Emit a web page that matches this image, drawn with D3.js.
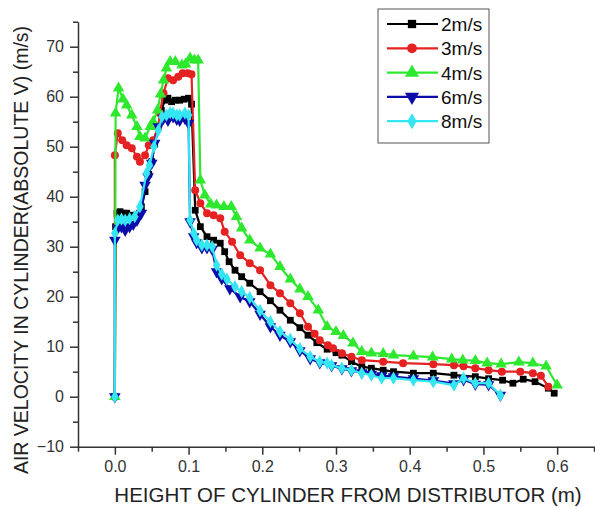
<!DOCTYPE html>
<html>
<head>
<meta charset="utf-8">
<script src="https://cdn.jsdelivr.net/npm/d3@7"></script>
<style>
  body { margin: 0; background: #fff; }
  svg { font-family: "Liberation Sans", Arial, sans-serif; }
</style>
</head>
<body>
<div id="chart"></div>
<script>
// data: [height (m), velocity (m/s)]
const s2 = [[0,0],[0.001,34],[0.003,36.7],[0.007,37],[0.012,36.7],[0.016,36.7],[0.023,36.3],[0.03,36.3],[0.036,38],[0.041,41],[0.046,44.5],[0.05,47],[0.054,50.5],[0.059,54],[0.063,57.3],[0.068,59.3],[0.072,59.7],[0.077,59],[0.082,59.3],[0.088,59.3],[0.094,59.5],[0.1,59.7],[0.104,58.5],[0.109,37.3],[0.116,34],[0.125,32],[0.134,31.3],[0.143,30.7],[0.149,29],[0.155,27],[0.163,25.3],[0.172,24],[0.183,22.7],[0.197,21],[0.211,19.2],[0.224,17.3],[0.238,15.3],[0.251,13.8],[0.262,12.3],[0.274,10.8],[0.288,9.5],[0.3,8.8],[0.308,8.3],[0.321,7],[0.335,6],[0.348,5.7],[0.364,5.3],[0.378,5],[0.405,4.7],[0.432,4.7],[0.46,4.3],[0.489,4],[0.507,3.6],[0.526,3.3],[0.54,2.7],[0.554,3.5],[0.57,3],[0.588,1.7],[0.596,0.7]];
const s3 = [[0,0],[0,48.3],[0.004,52.7],[0.01,51.3],[0.016,50.3],[0.023,49.7],[0.03,48],[0.034,47],[0.041,48.3],[0.046,50.3],[0.052,51.3],[0.059,54],[0.061,56.7],[0.066,60.7],[0.072,63.7],[0.079,63.3],[0.086,64],[0.092,64.7],[0.099,64.7],[0.104,64.5],[0.109,41.3],[0.116,38.7],[0.125,36.7],[0.134,36.3],[0.143,35.7],[0.149,33],[0.159,31],[0.17,28.3],[0.183,26.7],[0.197,25.3],[0.211,22.3],[0.224,20.7],[0.238,18.7],[0.251,16.7],[0.262,14],[0.271,12.6],[0.278,11.3],[0.289,10.3],[0.296,9.7],[0.308,8.7],[0.321,8],[0.335,7.3],[0.364,7],[0.391,6.7],[0.432,6.5],[0.46,6.3],[0.473,6.1],[0.489,5.7],[0.507,5.3],[0.525,5],[0.55,5],[0.567,4.7],[0.578,4.2],[0.588,2]];
const s4 = [[0,0],[0.001,56.7],[0.005,61.7],[0.011,59.5],[0.016,58.3],[0.023,56.3],[0.03,54],[0.034,52],[0.041,51.7],[0.048,54],[0.052,55],[0.058,57.3],[0.062,60.5],[0.066,63.3],[0.07,65.7],[0.075,67],[0.082,67],[0.091,66.3],[0.096,66.5],[0.102,67.7],[0.108,67.3],[0.113,67.3],[0.116,43.3],[0.122,40.3],[0.13,38.5],[0.138,38.3],[0.148,38],[0.158,38],[0.165,36],[0.172,33.7],[0.183,31.3],[0.197,29.7],[0.211,28.5],[0.224,26],[0.238,23.5],[0.251,21.5],[0.262,20],[0.276,17.3],[0.288,14],[0.3,13],[0.31,12.2],[0.323,10.7],[0.335,9],[0.348,8.7],[0.364,8.6],[0.378,8.3],[0.405,8.1],[0.431,7.9],[0.457,7.5],[0.472,7.3],[0.489,7.2],[0.505,6.7],[0.524,6.5],[0.548,6.9],[0.567,6.7],[0.585,6.1],[0.6,2.3]];
const s6 = [[0,0],[0,31.3],[0.004,33.7],[0.009,34],[0.014,33.3],[0.02,34],[0.025,34.5],[0.03,35.3],[0.036,36.7],[0.041,42.3],[0.045,44],[0.05,46.7],[0.054,50.7],[0.059,54],[0.066,55.7],[0.072,55.3],[0.079,56],[0.084,55.5],[0.088,55.3],[0.095,55.7],[0.1,54.7],[0.102,35],[0.107,32],[0.111,30.8],[0.118,29.8],[0.125,29.8],[0.132,29.5],[0.138,25],[0.145,23.6],[0.156,21.6],[0.17,20],[0.183,19],[0.197,16.5],[0.211,14],[0.224,12.3],[0.238,11],[0.251,9.2],[0.265,7.6],[0.278,6.8],[0.294,6.2],[0.308,5.6],[0.321,5.2],[0.335,4.8],[0.348,4.5],[0.362,4.2],[0.378,4],[0.405,3.6],[0.432,3.2],[0.46,2.6],[0.473,3.4],[0.489,2.5],[0.507,2.4],[0.523,0.3]];
const s8 = [[0,0],[0,32.7],[0.004,35.3],[0.009,35.5],[0.014,35.3],[0.02,35.6],[0.027,36],[0.034,38],[0.043,44.7],[0.047,46.3],[0.053,50],[0.059,53.3],[0.064,56],[0.07,56.3],[0.075,56.8],[0.079,56.7],[0.084,56.3],[0.088,56.3],[0.095,56.7],[0.1,56.3],[0.102,35.3],[0.107,32.7],[0.111,31.3],[0.118,30.3],[0.125,30.3],[0.132,30],[0.138,26.3],[0.145,24.5],[0.152,23.5],[0.163,22],[0.172,21],[0.183,19.8],[0.197,17.2],[0.211,15],[0.224,13],[0.238,11.5],[0.251,9.6],[0.265,8],[0.278,7],[0.288,6.7],[0.294,6.3],[0.308,5.7],[0.321,5.3],[0.335,4.7],[0.348,4.3],[0.362,3.7],[0.378,3.7],[0.405,3.3],[0.432,3],[0.46,2.3],[0.473,3.7],[0.489,2.7],[0.507,2.7],[0.523,0.3]];

const names = ['2m/s', '3m/s', '4m/s', '6m/s', '8m/s'];
const xTicks = [0, 0.1, 0.2, 0.3, 0.4, 0.5, 0.6];
const yTicks = [-10, 0, 10, 20, 30, 40, 50, 60, 70];

// layout
const w = 595, h = 507;
const colors = ['#000000', '#e52222', '#2ee82e', '#0c0ca8', '#33e6f2'];
const shapes = [d3.symbolSquare, d3.symbolCircle, d3.symbolTriangle, d3.symbolTriangle, d3.symbolDiamond];
const sizes = [46, 50, 58, 58, 50];
const rot = [0, 0, 0, 180, 0];

const xScale = d3.scaleLinear().domain([-0.05, 0.65]).range([78, 594]);
const yScale = d3.scaleLinear().domain([-10, 75]).range([446.7, 21.7]);

const svg = d3.select('#chart').append('svg')
    .attr('width', w)
    .attr('height', h);

// axes (major + minor ticks, outward)
const axisColor = '#333';
const xMinor = d3.range(-0.05, 0.651, 0.05).filter(v => Math.abs(Math.round(v * 10) - v * 10) > 0.01);
const yMinor = d3.range(-5, 76, 10);

const gx = svg.append('g').attr('transform', `translate(0,${yScale(-10)})`);
gx.call(d3.axisBottom(xScale).tickValues(xTicks).tickFormat(d3.format('.1f')).tickSize(8).tickSizeOuter(0).tickPadding(6));
gx.append('g').call(d3.axisBottom(xScale).tickValues(xMinor).tickSize(5).tickFormat(''))
    .select('.domain').remove();

const gy = svg.append('g').attr('transform', `translate(${xScale(-0.05)},0)`);
gy.call(d3.axisLeft(yScale).tickValues(yTicks).tickSize(8).tickSizeOuter(0).tickPadding(6));
gy.append('g').call(d3.axisLeft(yScale).tickValues(yMinor).tickSize(5).tickFormat(''))
    .select('.domain').remove();

svg.selectAll('.domain, .tick line').attr('stroke', axisColor).attr('stroke-width', 1.5);
svg.selectAll('.tick text').attr('fill', '#333').style('font-size', '16px')
    .style('font-family', '"Liberation Sans", Arial, sans-serif');

// series
const line = d3.line().x(d => xScale(d[0])).y(d => yScale(d[1]));
const series = [s2, s3, s4, s6, s8];

series.forEach((s, i) => {
    const g = svg.append('g');
    g.append('path')
        .datum(s)
        .attr('d', line)
        .attr('fill', 'none')
        .attr('stroke', colors[i])
        .attr('stroke-width', 2.2)
        .attr('stroke-linejoin', 'round');
    g.selectAll('path.pt')
        .data(s)
        .enter()
        .append('path')
        .attr('class', 'pt')
        .attr('d', d3.symbol().type(shapes[i]).size(sizes[i]))
        .attr('transform', d => `translate(${xScale(d[0])},${yScale(d[1])}) rotate(${rot[i]})`)
        .attr('fill', colors[i]);
});

// axis labels
svg.append('text')
    .attr('x', 348)
    .attr('y', 502)
    .attr('text-anchor', 'middle')
    .style('font-size', '20.5px')
    .attr('fill', '#222')
    .text('HEIGHT OF CYLINDER FROM DISTRIBUTOR (m)');

svg.append('text')
    .attr('transform', 'translate(28,250) rotate(-90)')
    .attr('text-anchor', 'middle')
    .style('font-size', '19.5px')
    .attr('fill', '#222')
    .text('AIR VELOCITY IN CYLINDER(ABSOLUTE V) (m/s)');

// legend
const lg = svg.append('g');
lg.append('rect')
    .attr('x', 378).attr('y', 9)
    .attr('width', 111).attr('height', 134)
    .attr('fill', '#fff')
    .attr('stroke', '#555')
    .attr('stroke-width', 1);

names.forEach((n, i) => {
    const y = 24 + i * 24.3;
    lg.append('line')
        .attr('x1', 387).attr('x2', 438)
        .attr('y1', y).attr('y2', y)
        .attr('stroke', colors[i])
        .attr('stroke-width', 2.2);
    lg.append('path')
        .attr('d', d3.symbol().type(shapes[i]).size(sizes[i] * 1.5))
        .attr('transform', `translate(412,${y}) rotate(${rot[i]})`)
        .attr('fill', colors[i]);
    lg.append('text')
        .attr('x', 441).attr('y', y + 7)
        .style('font-size', '19px')
        .attr('fill', '#111')
        .text(n);
});
</script>
</body>
</html>
